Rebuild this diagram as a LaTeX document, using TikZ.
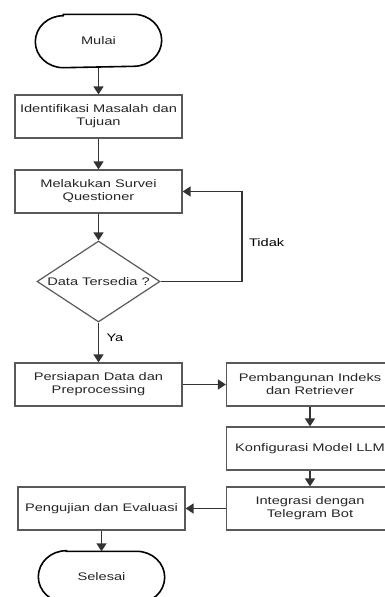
\documentclass[tikz,border=0pt]{standalone}
\usepackage{fontspec}
\setmainfont{Liberation Sans}[FakeStretch=1.33]
\usepackage{tikz}
\usetikzlibrary{positioning}
\usetikzlibrary{shapes,arrows.meta}
\tikzset{%
  block/.style    = {draw=black!65, line width=1.2pt, rectangle, minimum height = 43pt,
    minimum width = 167pt, align=center, text=black!85},
  term/.style     = {rectangle, minimum height = 52pt, minimum width = 125pt, text=black!85}, % Start / end
  decision/.style = {draw=black!65, line width=1.2pt, diamond, aspect=1.52, inner sep=0pt,
    minimum width = 123pt, minimum height = 81pt, text=black!85}
}

\begin{document}
\begin{tikzpicture}[auto, x=1pt, y=1pt, line width=1.4pt, node distance=75pt,
    >={Triangle[length=8pt,width=10pt]}, font=\fontsize{11}{13}\selectfont]

	\useasboundingbox (0,0) rectangle (384,-597);

	\draw node at (98.5,-41) [term] (mulai) {Mulai};
	\draw node [block, below of=mulai, node distance = 75.5pt] (identifikasi) {Identifikasi Masalah dan\\Tujuan};
	\draw node [block, below of=identifikasi, node distance = 75pt] (survei) {Melakukan Survei\\Questioner};
	\draw node [decision, below of=survei, node distance = 90pt] (cek) {Data Tersedia ?};
	\draw node [block, below of=cek, node distance = 103pt] (persiapan) {Persiapan Data dan\\Preprocessing};

	\draw node [block, right of=persiapan, node distance = 211.5pt] (indeks) {Pembangunan Indeks\\dan Retriever};
	\draw node [block, below of=indeks, node distance = 64pt] (llm) {Konfigurasi Model LLM};
	\draw node [block, below of=llm, node distance = 60pt] (telegram) {Integrasi dengan\\Telegram Bot};

	\draw node [block, left of=telegram, node distance = 208.5pt] (evaluasi) {Pengujian dan Evaluasi};
	\draw node [term, below of=evaluasi, node distance = 68.5pt, minimum height = 50pt] (selesai) {Selesai};

	\foreach \t in {mulai,selesai}{% outline of the terminals
    \draw[line width=1.6pt] ([xshift=28pt]\t.north west) -- ([xshift=-28pt]\t.north east)
      arc[start angle=90, end angle=-90, x radius=28pt, y radius=26pt]
      -- ([xshift=28pt]\t.south west)
      arc[start angle=270, end angle=90, x radius=28pt, y radius=26pt] -- cycle;
}

	\coordinate [right of=cek, node distance = 143.5pt] (bp);

	\draw[->, draw=black!80] (mulai) -- (identifikasi);
	\draw[->, draw=black!80] (identifikasi) -- (survei);
	\draw[->, draw=black!80] (survei) -- (cek);
	\draw[->, draw=black!80] (cek.east) -- (bp) -- node[right, pos=0.43, xshift=3pt] {Tidak} (bp |- survei.east) -- (survei.east);
	\draw[->, draw=black!80] (cek) -- node[right, pos=0.38, xshift=4pt] {Ya} (persiapan);

	\draw[->, draw=black!80] (persiapan) -- (indeks);
	\draw[->, draw=black!80] (indeks) -- (llm);
	\draw[->, draw=black!80] (llm) -- (telegram);
	\draw[->, draw=black!80] (telegram) -- (evaluasi);
	\draw[->, draw=black!80] (evaluasi) -- (selesai);

  \end{tikzpicture}
\end{document}
